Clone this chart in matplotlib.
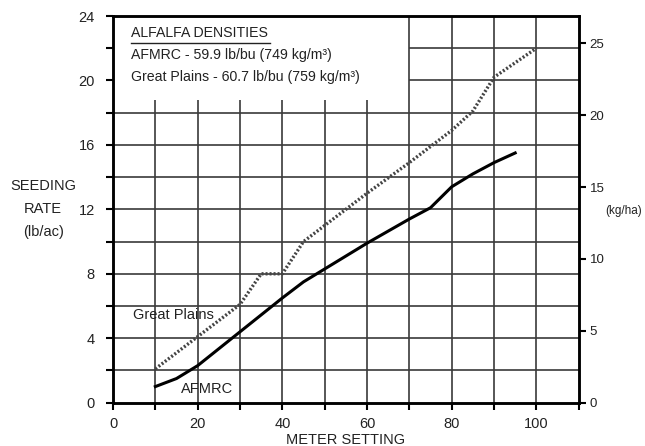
import matplotlib
matplotlib.use('Agg')
from matplotlib import pyplot as plt
from matplotlib.ticker import MultipleLocator

plt.rcParams['font.family'] = ['Liberation Sans', 'DejaVu Sans']

# meter setting vs seeding rate (lb/ac)
afmrc_x = [10, 15, 20, 30, 40, 45, 50, 60, 70, 75, 80, 85, 90, 95]
afmrc_y = [1.0, 1.5, 2.3, 4.4, 6.5, 7.5, 8.3, 9.9, 11.4, 12.1, 13.4, 14.2, 14.9, 15.5]

gp_x = [10, 20, 30, 35, 40, 45, 50, 60, 70, 80, 85, 90, 100]
gp_y = [2.1, 4.1, 6.1, 8.0, 8.0, 10.0, 11.0, 13.0, 14.9, 16.9, 18.1, 20.2, 22.0]

legend_lines = ['ALFALFA DENSITIES',
                'AFMRC - 59.9 lb/bu (749 kg/m\u00b3)',
                'Great Plains - 60.7 lb/bu (759 kg/m\u00b3)']

LB_AC_TO_KG_HA = 1.12085

fig = plt.figure(figsize=(6.45, 4.46), dpi=100)
ax = fig.add_axes([0.1752, 0.0971, 0.7220, 0.8670])
ax.set_xlim(0, 110)
ax.set_ylim(0, 24)

# grid, left open where the density box sits (x<70, y>18)
grid_kw = dict(colors='#3a3a3a', linewidth=1.2, zorder=1)
box_x, box_y = 70, 18
for gx in range(10, 110, 10):
    top = 24 if gx >= box_x else box_y + 0.8
    ax.vlines(gx, 0, top, **grid_kw)
for gy in range(2, 24, 2):
    left = 0 if gy <= box_y else box_x
    ax.hlines(gy, left, 110, **grid_kw)

ax.plot(gp_x, gp_y, color='#444444', lw=2.4, linestyle=(0, (0.6, 0.6)), zorder=3)
ax.plot(afmrc_x, afmrc_y, color='black', lw=2.2, zorder=3)

ax.text(14.2, 5.45, 'Great Plains', fontsize=10.5, ha='center', va='center', color='#222')
ax.text(22.1, 0.83, 'AFMRC', fontsize=10.5, ha='center', va='center', color='#222')

# density box text
ys = [22.96, 21.6, 20.2]
texts = []
for s, yy in zip(legend_lines, ys):
    texts.append(ax.text(4.2, yy, s, fontsize=10.2, ha='left', va='center', color='#222'))

for sp in ax.spines.values():
    sp.set_linewidth(1.8)

ax.xaxis.set_minor_locator(MultipleLocator(10))
ax.set_xticks([0, 20, 40, 60, 80, 100])
ax.yaxis.set_major_locator(MultipleLocator(4))
ax.yaxis.set_minor_locator(MultipleLocator(2))
ax.tick_params(which='both', direction='out', length=5, width=1.5, color='black')
ax.tick_params(axis='both', which='major', labelsize=10.5, pad=5, labelcolor='#222')
ax.tick_params(axis='y', which='major', pad=8)

ax.set_xlabel('METER SETTING', fontsize=10.5, color='#222', labelpad=2)
fig.text(0.067, 0.532, 'SEEDING\nRATE\n(lb/ac)', fontsize=10.5, ha='center', va='center',
         linespacing=1.8, color='#222')

ax2 = ax.twinx()
ax2.set_ylim(0, 24 * LB_AC_TO_KG_HA)
ax2.yaxis.set_major_locator(MultipleLocator(5))
ax2.tick_params(direction='out', length=5, width=1.5, labelsize=9.5, pad=3, labelcolor='#222')
for sp in ax2.spines.values():
    sp.set_linewidth(1.8)
fig.text(0.967, 0.527, '(kg/ha)', fontsize=8.5, ha='center', va='center', color='#222')

# underline the box title
fig.canvas.draw()
bb = texts[0].get_window_extent().transformed(fig.transFigure.inverted())
fig.add_artist(plt.Line2D([bb.x0, bb.x1 + 0.004], [bb.y0 - 0.008, bb.y0 - 0.008],
                          transform=fig.transFigure, color='#222', lw=1.0))

fig.savefig('out.png', dpi=100)
